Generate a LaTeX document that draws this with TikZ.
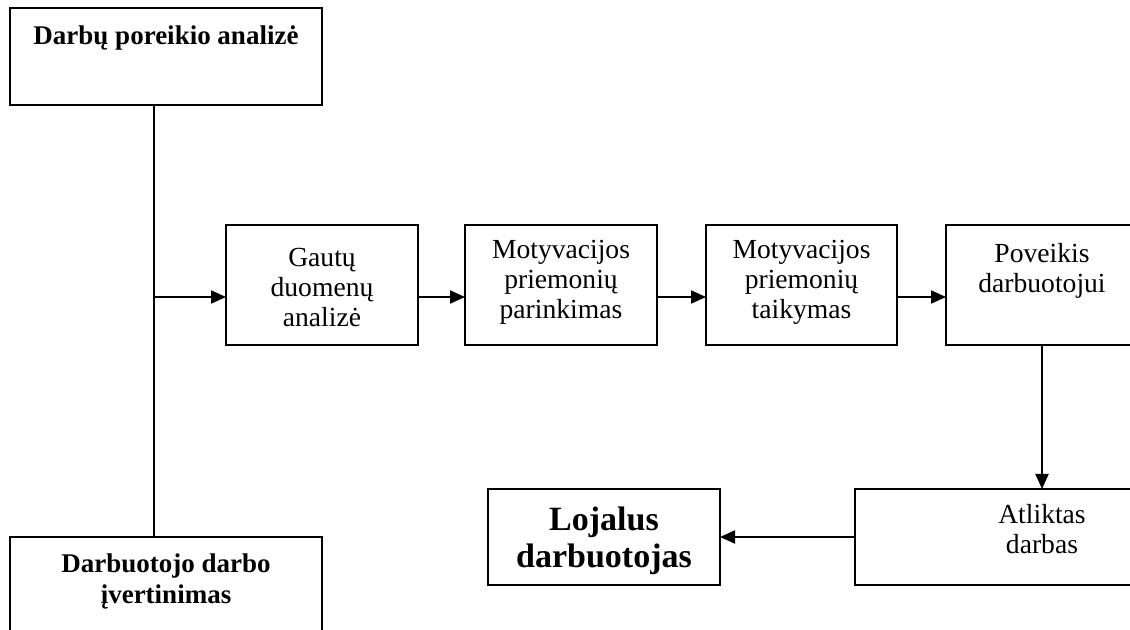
\documentclass[tikz,border=0pt]{standalone}
\usepackage{fontspec}
\setmainfont{Liberation Serif}
\usetikzlibrary{arrows.meta}

\tikzset{
  box/.style={draw, line width=1pt, inner sep=0pt, outer sep=0pt},
  txt/.style={inner sep=0pt, align=center, font=\fontsize{13.8pt}{15pt}\selectfont},
  btxt/.style={inner sep=0pt, align=center, font=\fontsize{13.5pt}{15.5pt}\selectfont\bfseries},
  bigtxt/.style={inner sep=0pt, align=center, font=\fontsize{17pt}{18.5pt}\selectfont\bfseries},
  link/.style={line width=1pt},
  arrow/.style={line width=1pt, -{Triangle[length=7.5pt, width=6.5pt]}}
}

\begin{document}
\begin{tikzpicture}[x=0.5pt, y=-0.5pt]
  \useasboundingbox (0,0) rectangle (1130,630);
  \clip (0,0) rectangle (1130,630);

  % left column
  \node[box, minimum width=156pt, minimum height=48.5pt] (top) at (166,56.5) {};
  \node[btxt, yshift=9pt] (topT) at (top.center) {Darbų poreikio analizė};
  \node[box, minimum width=156pt, minimum height=56.5pt] (bot) at (166,593.5) {};
  \node[btxt, yshift=6.25pt] (botT) at (bot.center) {Darbuotojo darbo\\įvertinimas};

  % main row
  \node[box, minimum width=96pt, minimum height=60pt] (g) at (322,285) {};
  \node[txt, yshift=-1.3pt] (gT) at (g.center) {Gautų\\duomenų\\analizė};
  \node[box, minimum width=96pt, minimum height=60pt] (m1) at (561,285) {};
  \node[txt, yshift=1.2pt] (m1T) at (m1.center) {Motyvacijos\\priemonių\\parinkimas};
  \node[box, minimum width=95.5pt, minimum height=60pt] (m2) at (801.5,285) {};
  \node[txt, yshift=1.2pt] (m2T) at (m2.center) {Motyvacijos\\priemonių\\taikymas};
  \node[box, minimum width=96pt, minimum height=60pt] (pov) at (1042,285) {};
  \node[txt, yshift=7.2pt] (povT) at (pov.center) {Poveikis\\darbuotojui};

  % lower row
  \node[box, minimum width=187pt, minimum height=48pt] (atl) at (1042,537) {};
  \node[txt, yshift=4.2pt] (atlT) at (atl.center) {Atliktas\\darbas};
  \node[box, minimum width=116pt, minimum height=48pt] (loj) at (604,537) {};
  \node[bigtxt, yshift=-1.75pt] (lojT) at (loj.center) {Lojalus\\darbuotojas};

  % connectors
  \coordinate (spine) at (154,0);
  \coordinate (row) at (0,297);
  \draw[link] (top.south -| spine) -- (bot.north -| spine);
  \draw[arrow] (spine |- row) -- (g.west |- row);
  \draw[arrow] (g.east |- row) -- (m1.west |- row);
  \draw[arrow] (m1.east |- row) -- (m2.west |- row);
  \draw[arrow] (m2.east |- row) -- (pov.west |- row);
  \draw[arrow] (pov.south) -- (atl.north);
  \draw[arrow] (atl.west) -- (loj.east);
\end{tikzpicture}
\end{document}
